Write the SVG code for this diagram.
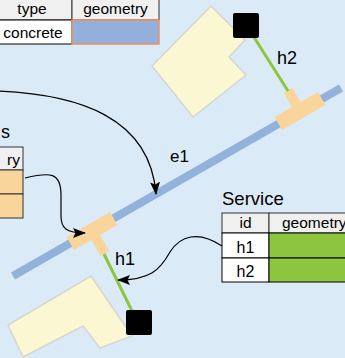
<svg xmlns="http://www.w3.org/2000/svg" width="345" height="358" viewBox="0 0 345 358">
<defs>
<style>
text{font-family:"Liberation Sans",Arial,Helvetica,sans-serif;fill:#000}
.hdr{fill:#f0f0f0;stroke:#333;stroke-width:1}
.cell{fill:#fff;stroke:#000;stroke-width:1}
.acc{fill:#f9d59c;stroke:#333;stroke-width:1}
.bld{fill:#fbf7d2;stroke:#d6d6d0;stroke-width:1.5}
.tee{fill:#f9d59c}
.svc{stroke:#8cc63f;stroke-width:3}
.box{fill:#000}
.conn{fill:none;stroke:#000;stroke-width:1.2}
.t15{font-size:15.5px}
</style>
<marker id="arr" viewBox="0 0 13 10" refX="12" refY="5" markerWidth="13" markerHeight="10" markerUnits="userSpaceOnUse" orient="auto">
<path d="M0,0 L13,5 L0,10 L2.5,5 z" fill="#000"/>
</marker>
</defs>
<rect x="0" y="0" width="345" height="358" fill="#dbeaf7"/>

<g id="building-top"><polygon class="bld" points="211,6 245,40 229,57 246,75 193,117 152,66"/></g>
<g id="building-bottom"><polygon class="bld" points="91,276 132,336 100,348 83,326 23,357 8,325"/></g>

<g id="e1">
<line x1="13" y1="276" x2="341" y2="88" stroke="#92b1db" stroke-width="8"/>
<text x="170" y="162" style="font-size:17px">e1</text>
</g>

<g id="h2">
<g transform="translate(300,111) rotate(-29.8)">
<rect class="tee" x="-25" y="-7.5" width="50" height="15"/>
<rect class="tee" x="-5" y="-24" width="10" height="18"/>
</g>
<line class="svc" x1="288" y1="91" x2="252" y2="34"/>
<rect class="box" x="233" y="13" width="26" height="25" rx="2"/>
<text x="277" y="64" style="font-size:18px">h2</text>
</g>

<g id="h1">
<g transform="translate(92,231) rotate(-29.8)">
<rect class="tee" x="-25" y="-7.5" width="50" height="15"/>
<rect class="tee" x="-5" y="6" width="10" height="20"/>
</g>
<line class="svc" x1="104" y1="254" x2="134" y2="315"/>
<rect class="box" x="126" y="310" width="26" height="25" rx="2"/>
<text x="115" y="265" style="font-size:18px">h1</text>
</g>

<g id="road-table">
<rect class="hdr" x="-8" y="-5" width="80" height="25"/>
<rect class="hdr" x="72" y="-5" width="87" height="25"/>
<rect class="cell" x="-8" y="20" width="80" height="24" stroke-width="2"/>
<rect x="72" y="20" width="87" height="24" fill="#92b0da" stroke="#ef8f5f" stroke-width="1.5"/>
<text class="t15" x="32" y="14" text-anchor="middle">type</text>
<text class="t15" x="115.5" y="14" text-anchor="middle">geometry</text>
<text class="t15" x="33" y="38" text-anchor="middle">concrete</text>
</g>

<g id="access-table">
<text x="10" y="138" text-anchor="end" style="font-size:18px">s</text>
<rect class="hdr" x="-30" y="147" width="53" height="23"/>
<rect class="acc" x="-30" y="170" width="53" height="24"/>
<rect class="acc" x="-30" y="194" width="53" height="24"/>
<text class="t15" x="20" y="165" text-anchor="end">ry</text>
</g>

<g id="service-table">
<text x="222" y="205" style="font-size:18.5px">Service</text>
<rect class="hdr" x="222" y="213" width="47" height="20"/>
<rect class="hdr" x="269" y="213" width="90" height="20"/>
<rect class="cell" x="222" y="233" width="47" height="25"/>
<rect x="269" y="233" width="90" height="25" fill="#8cc63f" stroke="#000"/>
<rect class="cell" x="222" y="258" width="47" height="24"/>
<rect x="269" y="258" width="90" height="24" fill="#8cc63f" stroke="#000"/>
<text class="t15" x="245.5" y="228" text-anchor="middle">id</text>
<text class="t15" x="282" y="228">geometry</text>
<text x="245.5" y="253" text-anchor="middle" style="font-size:16px">h1</text>
<text x="245.5" y="277" text-anchor="middle" style="font-size:16px">h2</text>
</g>

<g id="connectors">
<path class="conn" d="M -5 91 C 80 94, 150 118, 156 194" marker-end="url(#arr)"/>
<path class="conn" d="M 25 178 C 50 172, 61 172, 61 195 L 61 216 C 61 228, 66 233, 85 233" marker-end="url(#arr)"/>
<path class="conn" d="M 222 246 C 198 230, 180 236, 170 252 C 160 270, 150 280, 118 280" marker-end="url(#arr)"/>
</g>
</svg>
